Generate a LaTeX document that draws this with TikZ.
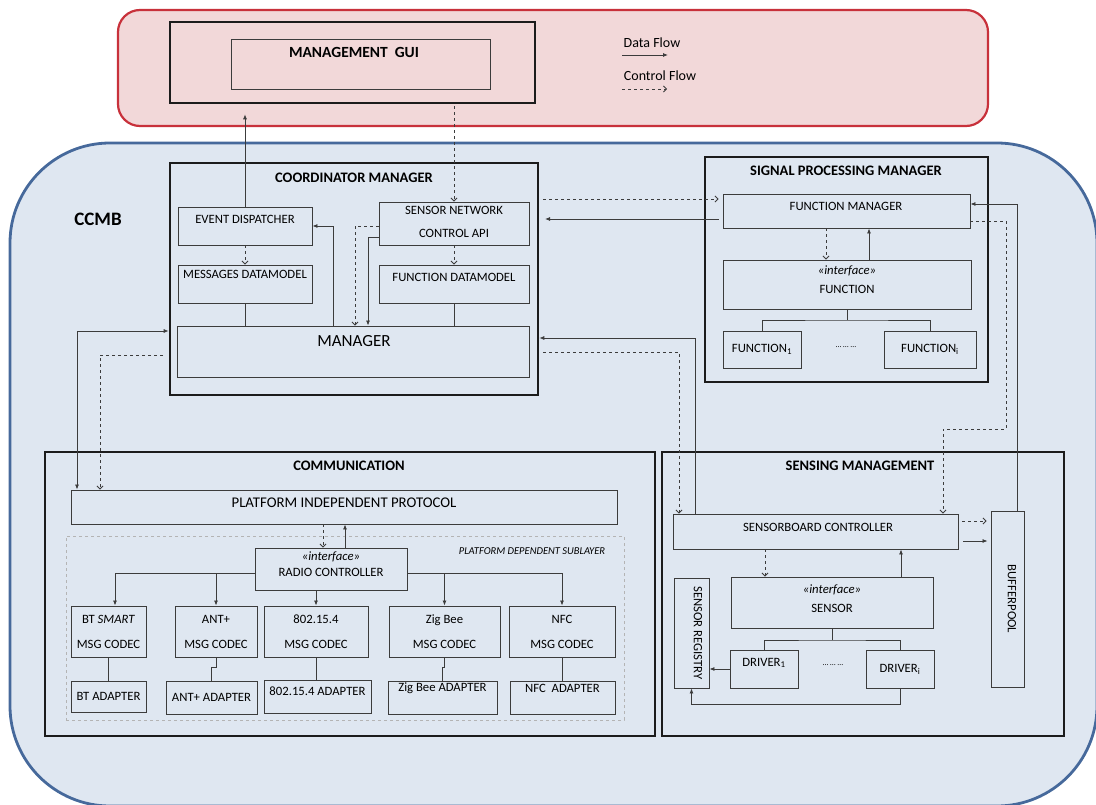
\documentclass[tikz,border=0pt]{standalone}
\usepackage{fontspec}
\setmainfont{Carlito}
\usetikzlibrary{arrows.meta}
\definecolor{guifill}{HTML}{F2D8D9}
\definecolor{guiedge}{HTML}{C8313B}
\definecolor{ccmbfill}{HTML}{DFE7F1}
\definecolor{ccmbedge}{HTML}{46699B}
\definecolor{boxc}{HTML}{3C3C3C}
\definecolor{grpc}{HTML}{1C1C1C}
\definecolor{subc}{HTML}{B4B4B4}

\begin{document}
\begin{tikzpicture}[x=1pt, y=-1pt, >={Latex[length=5pt,width=4pt]},
  box/.style={draw=boxc, line width=0.9pt, inner sep=0pt},
  group/.style={draw=grpc, line width=2.6pt, inner sep=0pt},
  lbl/.style={inner sep=0pt, font=\fontsize{12.7}{15}\selectfont},
  ttl/.style={inner sep=0pt, font=\bfseries\fontsize{14.5}{16}\selectfont},
  flow/.style={draw=boxc, line width=0.8pt},
  data/.style={flow, ->},
  ctrl/.style={flow, dashed, -{Straight Barb[length=3pt,width=6pt]}}]

\useasboundingbox (0,0) rectangle (1096,805);

% the two areas
\draw[fill=guifill, draw=guiedge, line width=2.2pt, rounded corners=22pt] (118,10) rectangle (988,126);
\draw[fill=ccmbfill, draw=ccmbedge, line width=2.8pt, rounded corners=100pt] (10,143) rectangle (1097,806);
\node[inner sep=0pt, font=\bfseries\fontsize{19}{21}\selectfont] (ccmb) at (98,219) {CCMB};

% gui
\node[group, minimum width=365, minimum height=81] (gui) at (352.5,62.5) {};
\node[box, minimum width=259, minimum height=50] (guiin) at (360.5,64) {};
\node[ttl, font=\bfseries\fontsize{15.5}{17}\selectfont] (guiT) at (354,52) {MANAGEMENT\ \ GUI};

% legend
\node[lbl, font=\fontsize{14}{16}\selectfont] (lgd) at (652,43) {Data Flow};
\node[lbl, font=\fontsize{14}{16}\selectfont] (lgc) at (660,76) {Control Flow};
\coordinate (lg1) at (622,55);
\coordinate (lg2) at (622,89);
\draw[data] (lg1) -- ++(46,0);
\draw[ctrl] (lg2) -- ++(45,0);

% coordinator manager
\node[group, minimum width=368, minimum height=232] (coord) at (354,279) {};
\node[ttl] (coordT) at (354,178) {COORDINATOR MANAGER};
\node[box, minimum width=134, minimum height=38] (evd) at (245,226) {};
\node[lbl] (evdT) at (245,219) {EVENT DISPATCHER};
\node[box, minimum width=134, minimum height=38] (msg) at (245,284) {};
\node[lbl] (msgT) at (245,274) {MESSAGES DATAMODEL};
\node[box, minimum width=150, minimum height=43] (api) at (454,223.5) {};
\node[lbl] (apiT1) at (454,210) {SENSOR NETWORK};
\node[lbl] (apiT2) at (454,233) {CONTROL API};
\node[box, minimum width=150, minimum height=38] (fdm) at (454,284) {};
\node[lbl] (fdmT) at (454,277) {FUNCTION DATAMODEL};
\node[box, minimum width=352, minimum height=51] (mgr) at (353,351.5) {};
\node[lbl, font=\fontsize{17}{19}\selectfont] (mgrT) at (354,341) {MANAGER};

% signal processing manager
\node[group, minimum width=283, minimum height=225] (spm) at (846.5,269.5) {};
\node[ttl] (spmT) at (846,171) {SIGNAL PROCESSING MANAGER};
\node[box, minimum width=247, minimum height=34] (fmgr) at (846.5,211) {};
\node[lbl] (fmgrT) at (846,206) {FUNCTION MANAGER};
\node[box, minimum width=248, minimum height=49] (fint) at (847,284.5) {};
\node[lbl] (fintT1) at (847,271) {\textit{«interface»}};
\node[lbl] (fintT2) at (847,289) {FUNCTION};
\node[box, lbl, minimum width=78, minimum height=37] (f1) at (762,349.5) {FUNCTION\textsubscript{1}};
\node[lbl, font=\fontsize{8}{9}\selectfont] (fdots) at (846,347) {\dots\ \dots\ \dots};
\node[box, lbl, minimum width=92, minimum height=37] (fi) at (930,349.5) {FUNCTION\textsubscript{i}};

% communication
\node[group, minimum width=610, minimum height=284] (comm) at (350,594) {};
\node[ttl] (commT) at (349,466) {COMMUNICATION};
\node[box, minimum width=546, minimum height=34] (pip) at (344,507) {};
\node[lbl, font=\fontsize{14.8}{17}\selectfont] (pipT) at (344,503) {PLATFORM INDEPENDENT PROTOCOL};
\node[draw=subc, line width=0.8pt, dashed, minimum width=558, minimum height=184] (sub) at (345,628) {};
\node[lbl, font=\itshape\fontsize{10.5}{12}\selectfont] (subT) at (532,551) {PLATFORM DEPENDENT SUBLAYER};
\node[box, minimum width=152, minimum height=42] (radio) at (331,569) {};
\node[lbl] (radioT1) at (331,557) {\textit{«interface»}};
\node[lbl] (radioT2) at (331,572) {RADIO CONTROLLER};

\node[box, lbl, align=center, minimum width=75, minimum height=51] (bt) at (108.5,631.5) {BT \textit{SMART}\\[10pt]MSG CODEC};
\node[box, lbl, align=center, minimum width=82, minimum height=51] (ant) at (216,631.5) {ANT+\\[10pt]MSG CODEC};
\node[box, lbl, align=center, minimum width=104, minimum height=51] (ieee) at (316,631.5) {802.15.4\\[10pt]MSG CODEC};
\node[box, lbl, align=center, minimum width=111, minimum height=51] (zig) at (444.5,631.5) {Zig Bee\\[10pt]MSG CODEC};
\node[box, lbl, align=center, minimum width=106, minimum height=51] (nfc) at (562,631.5) {NFC\\[10pt]MSG CODEC};

\node[box, lbl, minimum width=75, minimum height=31] (btA) at (108.5,696.5) {BT ADAPTER};
\node[box, lbl, minimum width=91, minimum height=33] (antA) at (211.5,697.5) {ANT+ ADAPTER};
\node[box, minimum width=107, minimum height=33] (ieeeA) at (317.5,696.5) {};
\node[lbl] (ieeeAT) at (317.5,691) {802.15.4 ADAPTER};
\node[box, minimum width=109, minimum height=33] (zigA) at (442.5,697.5) {};
\node[lbl] (zigAT) at (442.5,688) {Zig Bee ADAPTER};
\node[box, minimum width=105, minimum height=33] (nfcA) at (562.5,697.5) {};
\node[lbl] (nfcAT) at (562.5,688) {NFC\ \ ADAPTER};

% sensing management
\node[group, minimum width=402, minimum height=284] (sens) at (863,594) {};
\node[ttl] (sensT) at (860,466) {SENSING MANAGEMENT};
\node[box, minimum width=285, minimum height=35] (sbc) at (815.5,531.5) {};
\node[lbl] (sbcT) at (818,527) {SENSORBOARD CONTROLLER};
\node[box, minimum width=33, minimum height=176] (buf) at (1007.5,599) {};
\node[lbl, rotate=-90] (bufT) at (1012,599) {BUFFERPOOL};
\node[box, minimum width=35, minimum height=110] (reg) at (691.5,633) {};
\node[lbl, rotate=-90] (regT) at (698,633) {SENSOR REGISTRY};
\node[box, minimum width=202, minimum height=51] (sint) at (832,602.5) {};
\node[lbl] (sintT1) at (832,590) {\textit{«interface»}};
\node[lbl] (sintT2) at (832,608) {SENSOR};
\node[box, minimum width=68, minimum height=38] (d1) at (764,669) {};
\node[lbl] (d1T) at (764,663) {DRIVER\textsubscript{1}};
\node[lbl, font=\fontsize{8}{9}\selectfont] (ddots) at (833,665) {\dots\ \dots\ \dots};
\node[box, lbl, minimum width=68, minimum height=38] (di) at (900,669) {DRIVER\textsubscript{i}};

% bend points
\coordinate (k1) at (333,226);
\coordinate (k2) at (355,226);
\coordinate (k3) at (368,237);
\coordinate (k4) at (543,199);
\coordinate (k5) at (545,219);
\coordinate (k6) at (695,338);
\coordinate (k7) at (543,352);
\coordinate (k8) at (679,352);
\coordinate (k9) at (77,331);
\coordinate (k10) at (163,355);
\coordinate (k11) at (100,355);
\coordinate (k12) at (826,244);
\coordinate (k13) at (869,244);
\coordinate (k14) at (1017,204);
\coordinate (k15) at (1006,221);
\coordinate (k16) at (943,429);
\coordinate (k17) at (960,521);
\coordinate (k18) at (960,541);
\coordinate (k19) at (765,560);
\coordinate (k20) at (901,560);
\coordinate (k21) at (323,530);
\coordinate (k22) at (345,530);
\coordinate (r1) at (115,573);
\coordinate (t1) at (847,320);
\coordinate (t2) at (832,640);

% gui links
\draw[data, shorten >=10pt] (evd.north) -- (evd.north |- gui.south);
\draw[ctrl, shorten <=2pt] (gui.south -| api.north) -- (api.north);

% inside coordinator
\draw[ctrl] (evd.south) -- (msg.north);
\draw[ctrl] (api.south) -- (fdm.north);
\draw[flow] (msg.south) -- (mgr.north -| msg.south);
\draw[flow] (fdm.south) -- (mgr.north -| fdm.south);
\draw[data] (mgr.north -| k1) -- (k1) -- (evd.east |- k1);
\draw[ctrl] (api.west |- k2) -| (mgr.north -| k2);
\draw[data] (api.west |- k3) -| (mgr.north -| k3);

% coordinator and signal processing
\draw[ctrl, shorten >=4pt] (k4) -- (fmgr.west |- k4);
\draw[data, shorten <=4pt] (fmgr.west |- k5) -- (k5);

% coordinator and sensing
\draw[data] (sbc.north -| k6) |- (coord.east |- k6);
\draw[ctrl] (k7) -| (sbc.north -| k8);

% coordinator and communication
\draw[data, <->] (coord.west |- k9) -- (k9) -- (pip.north -| k9);
\draw[ctrl] (k10) -| (pip.north -| k11);

% inside signal processing
\draw[ctrl] (fmgr.south -| k12) -- (fint.north -| k12);
\draw[data] (fint.north -| k13) -- (fmgr.south -| k13);
\draw[flow] (fint.south) -- (t1);
\draw[flow] (f1.north) |- (t1) -| (fi.north);

% signal processing and sensing
\draw[data] (buf.north -| k14) |- (fmgr.east |- k14);
\draw[ctrl] (fmgr.east |- k15) -| (k15 |- k16) -| (sbc.north -| k16);

% inside sensing
\draw[ctrl, shorten >=4pt] (sbc.east |- k17) ++(4,0) -- (buf.west |- k17);
\draw[data, shorten >=3pt] (sbc.east |- k18) ++(5,0) -- (buf.west |- k18);
\draw[ctrl] (sbc.south -| k19) -- (sint.north -| k19);
\draw[data] (sint.north -| k20) -- (sbc.south -| k20);
\draw[flow] (sint.south) -- (t2);
\draw[flow] (d1.north) |- (t2) -| (di.north);
\draw[data] (d1.west) -- (reg.east |- d1.west);
\draw[data] (di.south) -- ++(0,16) -| (reg.south);

% inside communication
\draw[ctrl] (pip.south -| k21) -- (radio.north -| k21);
\draw[data] (radio.north -| k22) -- (pip.south -| k22);
\draw[data] (radio.west |- r1) -- (r1) -- (bt.north -| r1);
\draw[data] (ant.north |- r1) -- (ant.north);
\draw[data] (radio.south -| ieee.north) -- (ieee.north);
\draw[data] (radio.east |- r1) -| (nfc.north);
\draw[data] (zig.north |- r1) -- (zig.north);
\draw[flow] (bt.south) -- (btA.north);
\draw[flow] (ant.south) -- ++(0,10) -| (antA.north);
\draw[flow] (ieee.south) -- (ieeeA.north -| ieee.south);
\draw[flow] (zig.south) -- ++(0,10) -| (zigA.north);
\draw[flow] (nfc.south) -- (nfcA.north -| nfc.south);

\end{tikzpicture}
\end{document}
